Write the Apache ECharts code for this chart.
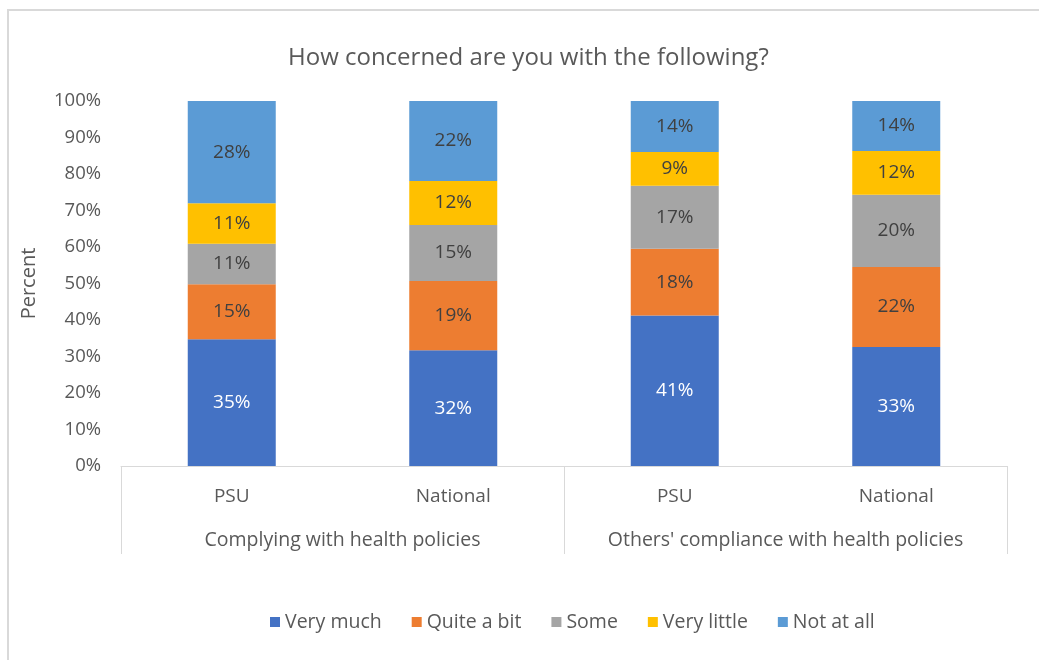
<!DOCTYPE html>
<html>
<head>
<meta charset="utf-8">
<script src="https://cdn.jsdelivr.net/npm/echarts@6/dist/echarts.min.js"></script>
<style>html,body{margin:0;padding:0;background:#fff}#c{width:1039px;height:660px}</style>
</head>
<body>
<div id="c"></div>
<script>
const categories = ['PSU', 'National', 'PSU', 'National'];
const groups = ['Complying with health policies', "Others' compliance with health policies"];
const seriesNames = ['Very much', 'Quite a bit', 'Some', 'Very little', 'Not at all'];
const veryMuch = [34.7, 31.7, 41.2, 32.6];
const quiteABit = [15.1, 19.0, 18.3, 21.9];
const some = [11.1, 15.3, 17.3, 19.8];
const veryLittle = [11.1, 12.1, 9.2, 12.0];
const notAtAll = [28.0, 21.9, 14.0, 13.7];
const yTicks = [0, 10, 20, 30, 40, 50, 60, 70, 80, 90, 100];

const colors = ['#4472C4', '#ED7D31', '#A5A5A5', '#FFC000', '#5B9BD5'];
const values = [veryMuch, quiteABit, some, veryLittle, notAtAll];
const FONT = 'Open Sans';

const chart = echarts.init(document.getElementById('c'), null, {renderer: 'canvas'});
const series = seriesNames.map((name, i) => ({
  name: name,
  type: 'bar',
  stack: 'total',
  xAxisIndex: 0,
  barWidth: 88,
  itemStyle: {color: colors[i]},
  label: {
    show: true,
    position: 'inside',
    formatter: p => Math.round(p.value) + '%',
    color: i === 0 ? '#ffffff' : '#404040',
    fontSize: 19,
    fontFamily: FONT
  },
  emphasis: {disabled: true},
  data: values[i]
}));

chart.setOption({
  animation: false,
  textStyle: {fontFamily: FONT},
  graphic: [{
    type: 'rect',
    shape: {x: 8, y: 10, width: 1200, height: 1000},
    style: {fill: 'none', stroke: '#d9d9d9', lineWidth: 2},
    silent: true
  }],
  title: {
    text: 'How concerned are you with the following?',
    left: 283,
    top: 41,
    textStyle: {fontFamily: FONT, fontSize: 24, fontWeight: 'normal', color: '#595959'}
  },
  legend: {
    top: 607,
    left: 265,
    itemWidth: 10,
    itemHeight: 10,
    itemGap: 30,
    icon: 'rect',
    textStyle: {fontFamily: FONT, fontSize: 19.5, color: '#595959'},
    data: seriesNames
  },
  grid: {left: 121, right: 32, top: 101, bottom: 194, containLabel: false},
  xAxis: [{
    type: 'category',
    data: categories,
    position: 'bottom',
    axisLine: {show: true, lineStyle: {color: '#d9d9d9', width: 1}},
    axisTick: {show: false},
    axisLabel: {interval: 0, margin: 21, fontSize: 19, color: '#595959', fontFamily: FONT}
  }, {
    type: 'category',
    data: groups,
    position: 'bottom',
    axisLine: {show: false},
    axisTick: {show: true, interval: 0, length: 88, lineStyle: {color: '#d9d9d9', width: 1}},
    axisLabel: {interval: 0, margin: 64, fontSize: 19.5, color: '#595959', fontFamily: FONT},
    splitLine: {show: false}
  }],
  yAxis: {
    type: 'value',
    min: 0,
    max: 100,
    interval: 10,
    name: 'Percent',
    nameLocation: 'middle',
    nameGap: 82,
    nameRotate: 90,
    nameTextStyle: {fontSize: 20, color: '#595959', fontFamily: FONT},
    axisLine: {show: false},
    axisTick: {show: false},
    splitLine: {show: false},
    axisLabel: {
      margin: 20,
      fontSize: 18.5,
      color: '#595959',
      fontFamily: FONT,
      formatter: v => (yTicks.indexOf(v) >= 0 ? v + '%' : '')
    }
  },
  series: series
});
</script>
</body>
</html>
